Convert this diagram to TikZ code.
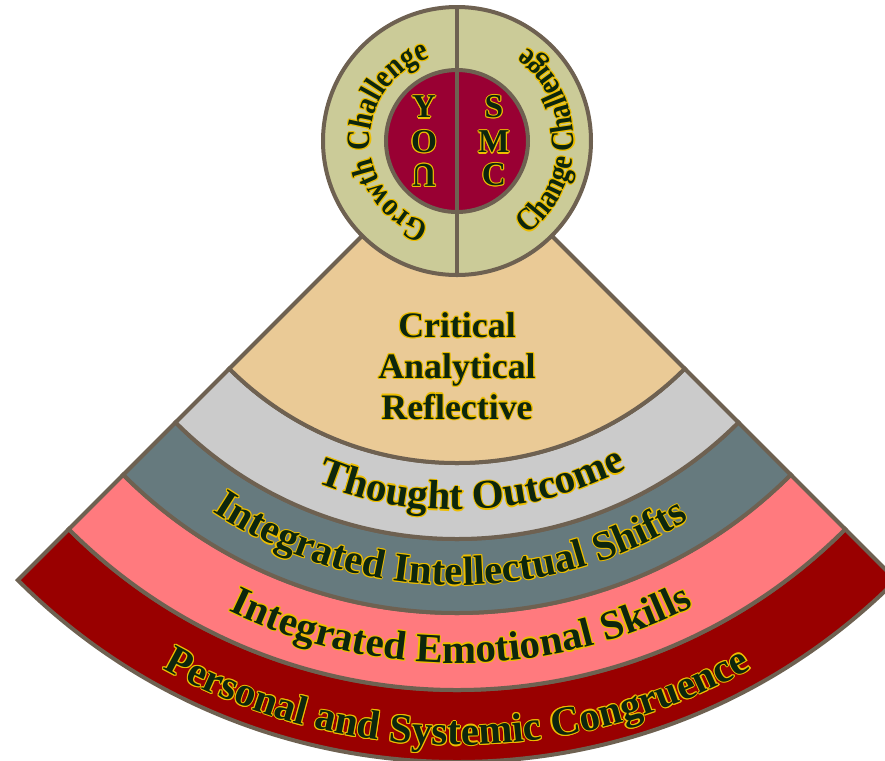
\documentclass[tikz,border=0pt]{standalone}
\usepackage{fontspec}
\setmainfont{Liberation Serif}
\newfontfamily\narrowface[FakeStretch=0.85]{Liberation Serif}
\usetikzlibrary{calc,decorations.text}
\definecolor{rim}{HTML}{6E6151}
\definecolor{sand}{HTML}{EACA96}
\definecolor{mist}{HTML}{CBCBCB}
\definecolor{slate}{HTML}{667A7E}
\definecolor{salmon}{HTML}{FF7A7E}
\definecolor{blood}{HTML}{990000}
\definecolor{khaki}{HTML}{CBCB98}
\definecolor{wine}{HTML}{990033}
\definecolor{ink}{HTML}{0D260D}
\definecolor{glow}{HTML}{EDBE00}
\def\bandfont{\fontsize{23.3}{28}\selectfont\bfseries}
\def\ringfont{\narrowface\fontsize{18.6}{22}\selectfont\bfseries}
\def\band[#1](#2:#3){\draw[line width=0.8mm, draw=rim, fill=#1] (225:#2) arc (225:315:#2) -- (315:#3) arc (315:225:#3) -- cycle;}
\def\arctext[#1](#2:#3:#4)#5{%
  \foreach \a in {0,45,...,315}
    \path[shift={(\a:0.022)}, decorate, decoration={text along path, text align=center, text color=glow, text={|#1|#5}}] (#3:#2) arc (#3:#4:#2);
  \path[decorate, decoration={text along path, text align=center, text color=ink, text={|#1|#5}}] (#3:#2) arc (#3:#4:#2);}
\def\glowtext(#1)[#2]#3#4{%
  \foreach \a in {0,45,...,315}
    \node[#2, text=glow] (#3-\a) at ($(#1)+(\a:0.022)$) {#4};
  \node[#2, text=ink] (#3) at (#1) {#4};}

\begin{document}
\begin{tikzpicture}[
    letter/.style={inner sep=0pt, font=\fontsize{19}{22}\selectfont\bfseries},
    block/.style={inner sep=0pt, align=center, font=\fontsize{20.4}{23.2}\selectfont\bfseries}]
			%%%%% START %%%%%
			\useasboundingbox (-9.14,-12.38) rectangle (8.56,2.82);
			\clip (-9.14,-12.38) rectangle (8.56,2.82);
			
			\band[blood](10.98:12.42);
			\band[salmon](9.44:10.98);
			\band[slate](7.96:9.44);
			\band[mist](6.44:7.96);
			\band[sand](1:6.44);
			
			\draw[line width=0.8mm, draw=rim, fill=khaki] (0,0) circle (2.68);
			\draw[line width=0.8mm, draw=rim, fill=wine] (0,0) circle (1.42);
			\draw[line width=0.8mm, draw=rim] (0,2.68) -- (0,-2.68);
			
			\arctext[\ringfont](1.74:270:90){Growth Challenge}
			\arctext[\ringfont](2.34:-90:90){Change Challenge}
			
			\glowtext(-0.66,0.68)[letter]{y}{Y}
			\glowtext(-0.66,-0.02)[letter]{o}{O}
			\glowtext(-0.66,-0.68)[letter, rotate=180]{u}{U}
			\glowtext(0.74,0.68)[letter]{s}{S}
			\glowtext(0.74,-0.02)[letter]{m}{M}
			\glowtext(0.74,-0.68)[letter]{c}{C}
			
			\glowtext(0,-4.5)[block]{crit}{Critical\\Analytical\\Reflective}
			
			\arctext[\bandfont](7.38:227.5:317.5){Thought Outcome}
			\arctext[\bandfont](8.88:224:314){Integrated Intellectual Shifts}
			\arctext[\bandfont](10.44:225.5:315.5){Integrated Emotional Skills}
			\arctext[\bandfont](12.08:225:315){Personal and Systemic Congruence}
			
			%%%%% END %%%%%
		\end{tikzpicture}
\end{document}
